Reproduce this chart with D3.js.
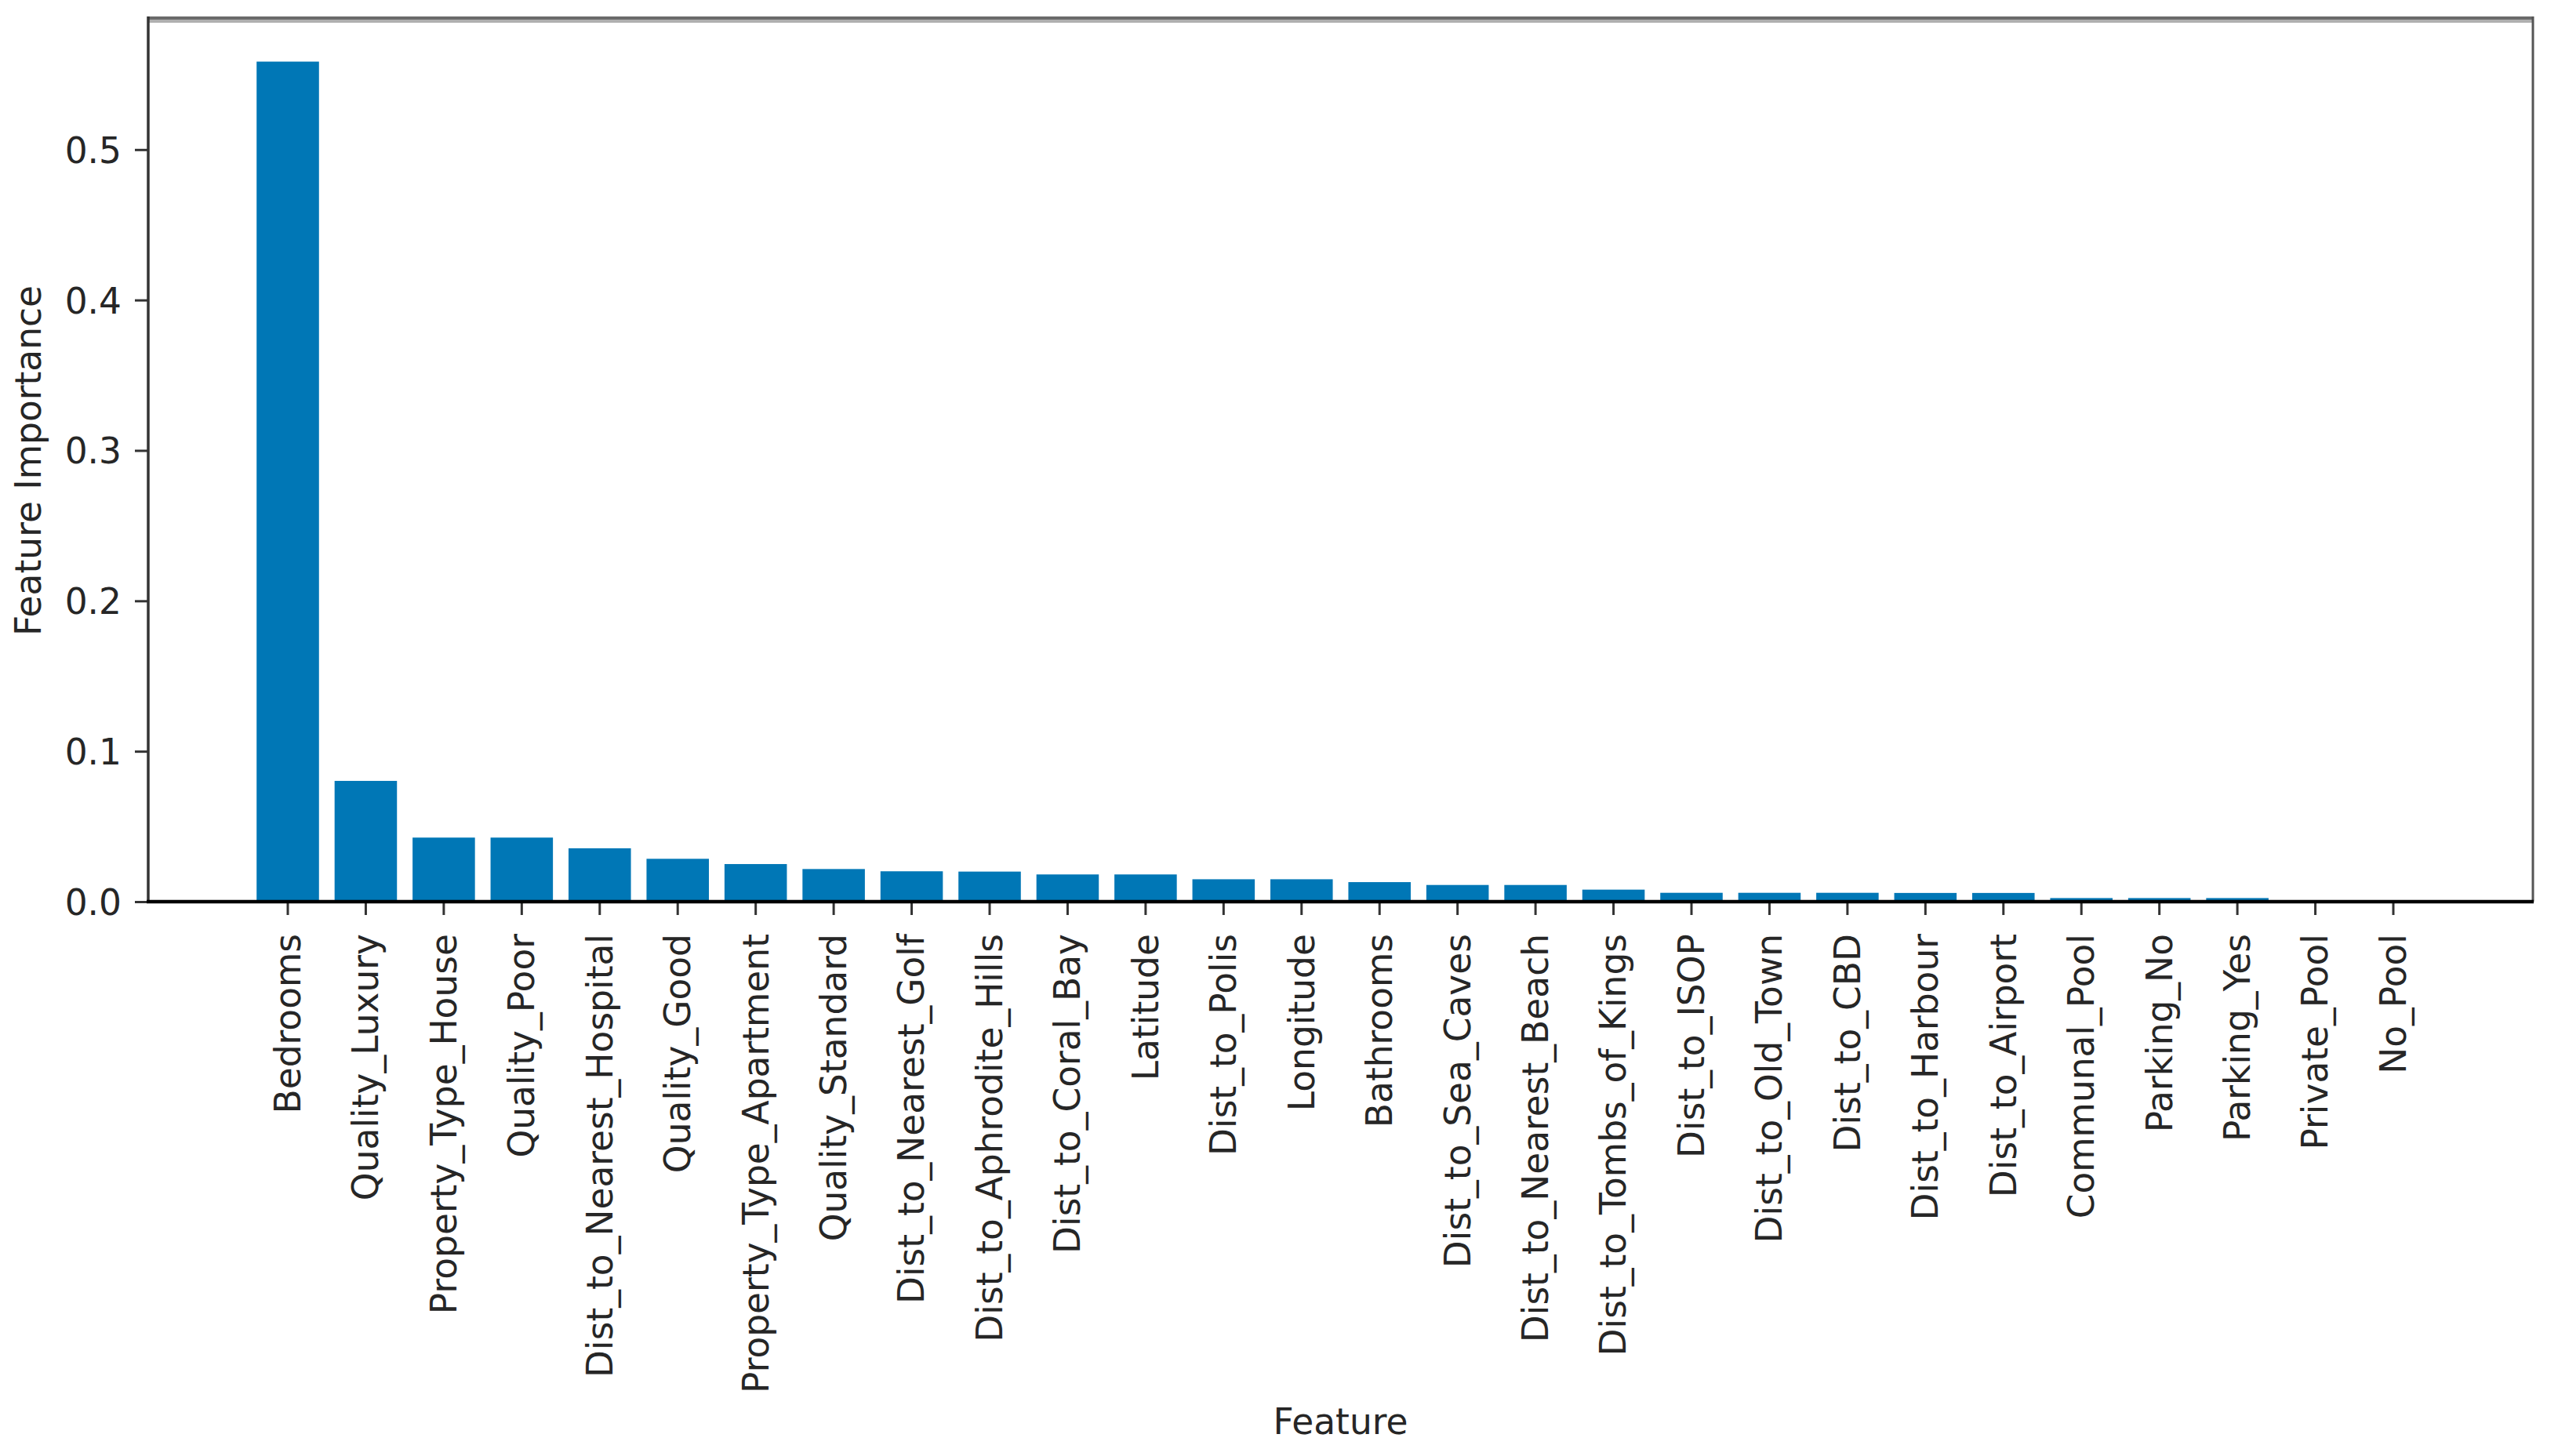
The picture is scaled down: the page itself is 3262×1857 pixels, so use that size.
<!DOCTYPE html>
<html>
<head>
<meta charset="utf-8">
<script src="https://cdn.jsdelivr.net/npm/d3@7"></script>
<style>
  html, body { margin: 0; padding: 0; background: #fff; }
  svg { display: block; }
</style>
</head>
<body>
<svg id="chart" width="3262" height="1857"></svg>
<script>
// ---- data ----
const features = [
  "Bedrooms", "Quality_Luxury", "Property_Type_House", "Quality_Poor",
  "Dist_to_Nearest_Hospital", "Quality_Good", "Property_Type_Apartment",
  "Quality_Standard", "Dist_to_Nearest_Golf", "Dist_to_Aphrodite_Hills",
  "Dist_to_Coral_Bay", "Latitude", "Dist_to_Polis", "Longitude", "Bathrooms",
  "Dist_to_Sea_Caves", "Dist_to_Nearest_Beach", "Dist_to_Tombs_of_Kings",
  "Dist_to_ISOP", "Dist_to_Old_Town", "Dist_to_CBD", "Dist_to_Harbour",
  "Dist_to_Airport", "Communal_Pool", "Parking_No", "Parking_Yes",
  "Private_Pool", "No_Pool"
];
const importance = [
  0.5585, 0.0803, 0.0426, 0.0426,
  0.0355, 0.0285, 0.0250,
  0.0217, 0.0202, 0.0200,
  0.0181, 0.0181, 0.0149, 0.0149, 0.0130,
  0.0111, 0.0111, 0.0080,
  0.0059, 0.0059, 0.0059, 0.0058,
  0.0058, 0.0024, 0.0024, 0.0024,
  0.0000, 0.0000
];
const yTicks = [0.0, 0.1, 0.2, 0.3, 0.4, 0.5];
const xLabel = "Feature";
const yLabel = "Feature Importance";

// ---- layout ----
const L = 189, R = 3230, T = 25, B = 1150;
const FONT = "'DejaVu Sans', 'Liberation Sans', sans-serif";
const FS = 45.5;
const TEXT = "#262626";

const svg = d3.select("#chart");
svg.append("rect").attr("width", 3262).attr("height", 1857).attr("fill", "#fff");

const data = features.map((f, i) => ({ f, v: importance[i] }));

const x = d3.scaleBand()
  .domain(features)
  .range([L, R])
  .paddingInner(0.2)
  .paddingOuter(1.39);

const y = d3.scaleLinear()
  .domain([0, d3.max(importance) * 1.05])
  .range([B, T]);

// bars
svg.append("g").selectAll("rect")
  .data(data)
  .join("rect")
  .attr("x", d => x(d.f))
  .attr("width", x.bandwidth())
  .attr("y", d => y(d.v))
  .attr("height", d => B - y(d.v))
  .attr("fill", "#0077b6");

// y axis
const yAxis = d3.axisLeft(y)
  .tickValues(yTicks)
  .tickSize(17)
  .tickPadding(17)
  .tickFormat(d3.format(".1f"));
const gy = svg.append("g").attr("transform", `translate(${L},0)`).call(yAxis);
gy.select(".domain").remove();
gy.selectAll(".tick line").attr("stroke", "#333").attr("stroke-width", 3);
gy.selectAll(".tick text")
  .attr("font-family", FONT).attr("font-size", FS).attr("fill", TEXT)
  .attr("dy", "0.36em");

// x axis
const xAxis = d3.axisBottom(x).tickSize(17).tickPadding(0);
const gx = svg.append("g").attr("transform", `translate(0,${B})`).call(xAxis);
gx.select(".domain").remove();
gx.selectAll(".tick line").attr("stroke", "#333").attr("stroke-width", 3);
gx.selectAll(".tick text")
  .attr("font-family", FONT).attr("font-size", FS).attr("fill", TEXT)
  .attr("text-anchor", "end")
  .attr("transform", "translate(0,41) rotate(-90)")
  .attr("x", 0).attr("y", 0)
  .attr("dy", "0.35em");

// spines
svg.append("line").attr("x1", L).attr("x2", R).attr("y1", 23).attr("y2", 23)
  .attr("stroke", "#6a6a6a").attr("stroke-width", 4);
svg.append("line").attr("x1", L).attr("x2", R).attr("y1", 27).attr("y2", 27)
  .attr("stroke", "#b0b0b0").attr("stroke-width", 4);
svg.append("line").attr("x1", R).attr("x2", R).attr("y1", T - 4).attr("y2", B)
  .attr("stroke", "#555").attr("stroke-width", 3);
svg.append("line").attr("x1", L).attr("x2", L).attr("y1", T - 4).attr("y2", B)
  .attr("stroke", "#333").attr("stroke-width", 3.5);
svg.append("line").attr("x1", L - 2).attr("x2", R + 1).attr("y1", B).attr("y2", B)
  .attr("stroke", "#000").attr("stroke-width", 4.5);

// axis labels
svg.append("text")
  .attr("x", (L + R) / 2).attr("y", 1829)
  .attr("text-anchor", "middle")
  .attr("font-family", FONT).attr("font-size", FS).attr("fill", TEXT)
  .text(xLabel);

svg.append("text")
  .attr("transform", `translate(52,${(T + B) / 2}) rotate(-90)`)
  .attr("text-anchor", "middle")
  .attr("font-family", FONT).attr("font-size", FS).attr("fill", TEXT)
  .text(yLabel);
</script>
</body>
</html>
